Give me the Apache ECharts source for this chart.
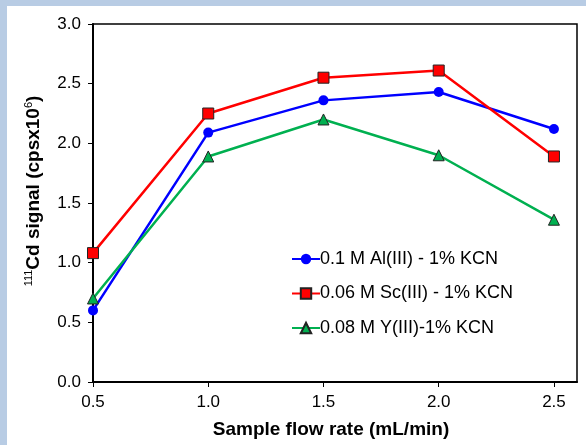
<!DOCTYPE html>
<html>
<head>
<meta charset="utf-8">
<script src="https://cdn.jsdelivr.net/npm/echarts@6/dist/echarts.min.js"></script>
<style>
  html, body { margin: 0; padding: 0; background: #B8CCE4; width: 586px; height: 445px; overflow: hidden; }
  #chart { position: absolute; left: 7px; top: 6px; width: 579px; height: 439px; background: #ffffff; }
</style>
</head>
<body>
<div id="chart"></div>
<script>
const flowRates = [0.5, 1.0, 1.5, 2.0, 2.5];
const xTicks = [0.5, 1.0, 1.5, 2.0, 2.5];
const seriesNames = ['0.1 M Al(III) - 1% KCN', '0.06 M Sc(III) - 1% KCN', '0.08 M Y(III)-1% KCN'];
const alValues = [0.60, 2.09, 2.36, 2.43, 2.12];
const scValues = [1.08, 2.25, 2.55, 2.61, 1.89];
const yValues  = [0.70, 1.89, 2.20, 1.90, 1.36];

const pairs = (vals) => flowRates.map((x, i) => [x, vals[i]]);
const font = 'Liberation Sans, Arial, sans-serif';

const chart = echarts.init(document.getElementById('chart'), null, { renderer: 'canvas' });
chart.setOption({
  animation: false,
  textStyle: { fontFamily: font },
  grid: { left: 86, top: 18, right: 9, bottom: 63, show: true, borderColor: '#000', borderWidth: 1.5, backgroundColor: 'transparent' },
  xAxis: {
    type: 'value', min: 0.5, max: 2.6,
    name: 'Sample flow rate (mL/min)', nameLocation: 'middle', nameGap: 38,
    nameTextStyle: { fontSize: 19, fontWeight: 'bold', color: '#000', fontFamily: font, padding: [0, 8, 0, 0] },
    axisLine: { show: true, lineStyle: { color: '#000', width: 2 } },
    axisTick: { show: true, length: 5, inside: false, lineStyle: { color: '#000' }, customValues: xTicks },
    axisLabel: { fontSize: 17, color: '#000', margin: 12, fontFamily: font, customValues: xTicks, formatter: v => v.toFixed(1) },
    splitLine: { show: false }
  },
  yAxis: {
    type: 'value', min: 0, max: 3, interval: 0.5,
    name: '{sup|111}{b|Cd signal (cpsx10}{sup|6}{b|)}', nameLocation: 'middle', nameGap: 48, nameRotate: 90,
    nameTextStyle: {
      fontSize: 19, fontWeight: 'bold', color: '#000', fontFamily: font, padding: [0, 0, 0, 24],
      rich: {
        b: { fontSize: 19, fontWeight: 'bold', color: '#000', fontFamily: font, lineHeight: 22 },
        sup: { fontSize: 11, fontWeight: 'normal', color: '#000', fontFamily: font, verticalAlign: 'top', lineHeight: 22 }
      }
    },
    axisLine: { show: true, lineStyle: { color: '#000', width: 2 } },
    axisTick: { show: true, length: 5, lineStyle: { color: '#000' } },
    axisLabel: { fontSize: 17, color: '#000', margin: 12, fontFamily: font, formatter: v => v.toFixed(1) },
    splitLine: { show: false }
  },
  legend: {
    orient: 'vertical', left: 279, top: 239, itemGap: 16.5,
    itemWidth: 28, itemHeight: 13,
    textStyle: { fontSize: 18, color: '#000', fontFamily: font, padding: [0, 0, 0, -5] },
    data: seriesNames
  },
  series: [
    { name: seriesNames[0], type: 'line', data: pairs(alValues), color: '#0000FF',
      symbol: 'circle', symbolSize: 10, lineStyle: { width: 2.5, color: '#0000FF' },
      itemStyle: { color: '#0000FF', borderColor: '#0000FF', borderWidth: 0 } },
    { name: seriesNames[1], type: 'line', data: pairs(scValues), color: '#FF0000',
      symbol: 'rect', symbolSize: 11, lineStyle: { width: 2.5, color: '#FF0000' },
      itemStyle: { color: '#FF0000', borderColor: '#222', borderWidth: 1 } },
    { name: seriesNames[2], type: 'line', data: pairs(yValues), color: '#00B050',
      symbol: 'triangle', symbolSize: 11, lineStyle: { width: 2.5, color: '#00B050' },
      itemStyle: { color: '#00B050', borderColor: '#222', borderWidth: 1 } }
  ]
});
</script>
</body>
</html>
